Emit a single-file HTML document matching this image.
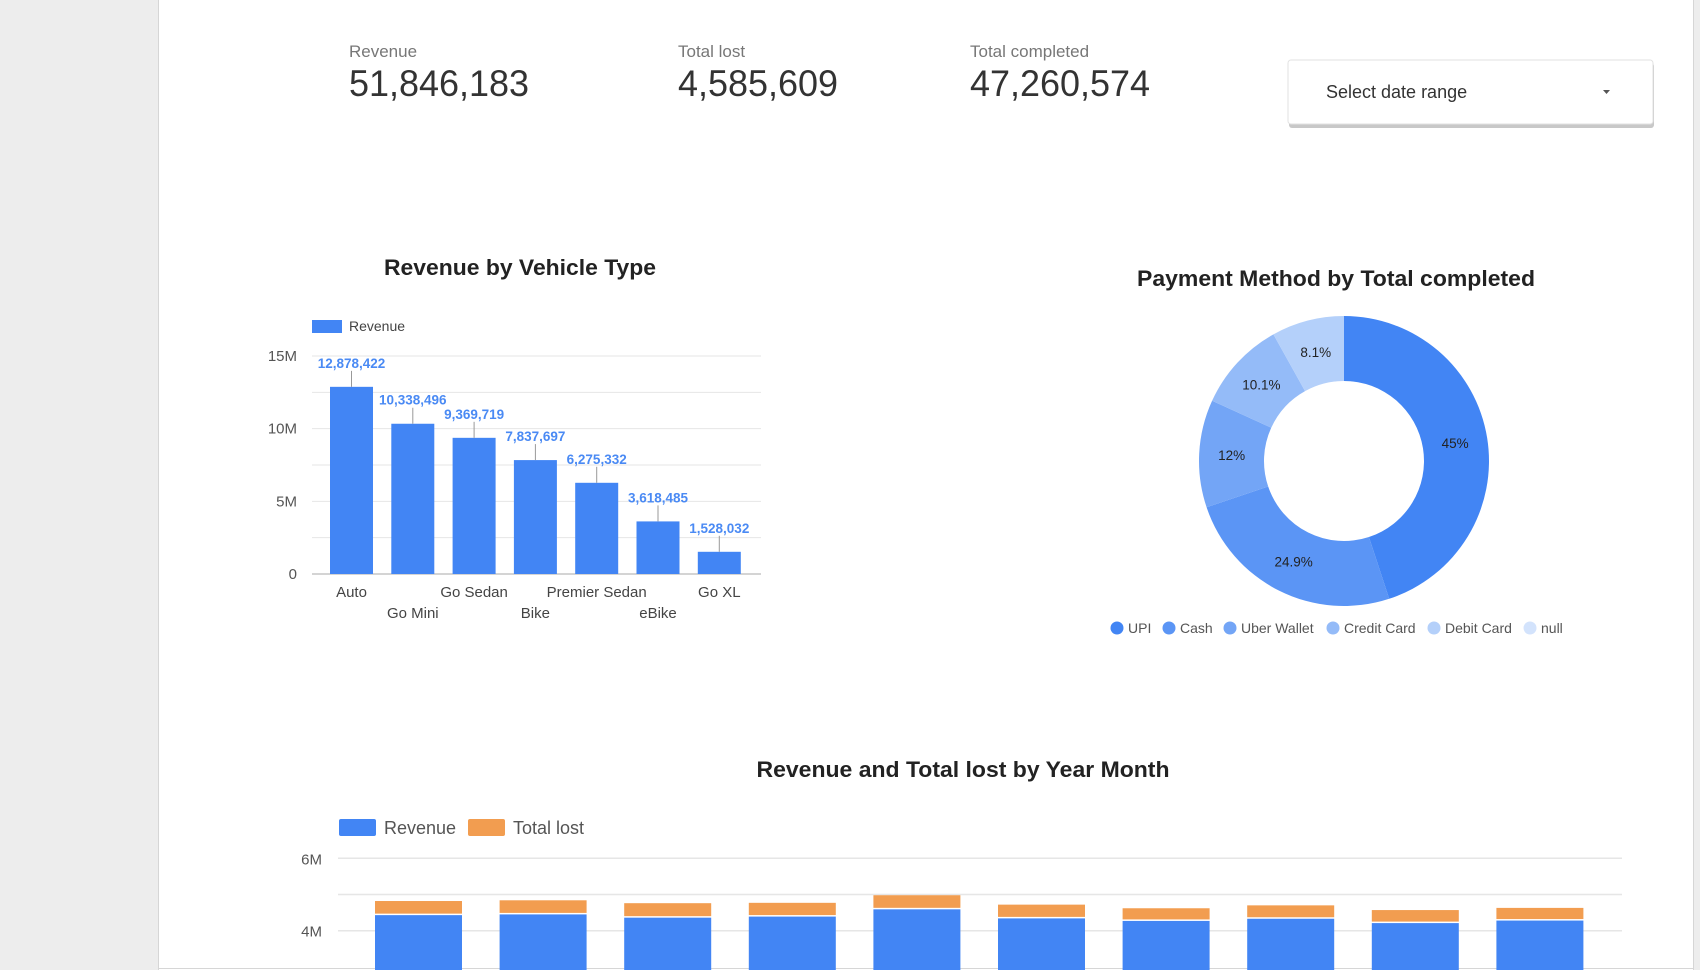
<!DOCTYPE html>
<html><head><meta charset="utf-8">
<style>
html,body{margin:0;padding:0;width:1700px;height:970px;overflow:hidden;background:#fff;font-family:"Liberation Sans",Arial,sans-serif;}
svg text{font-family:"Liberation Sans",Arial,sans-serif;}
</style></head>
<body>
<svg id="page" width="1700" height="970" viewBox="0 0 1700 970">
  <rect x="0" y="0" width="158" height="970" fill="#ededed"/>
  <line x1="158.5" y1="0" x2="158.5" y2="970" stroke="#d6d6d6"/>
  <rect x="1694" y="0" width="6" height="970" fill="#ededed"/>
  <line x1="1693.5" y1="0" x2="1693.5" y2="970" stroke="#d6d6d6"/>
  <line x1="158" y1="968.5" x2="1694" y2="968.5" stroke="#d6d6d6"/>

  <g>
    <text x="349" y="57" font-size="17" fill="#777">Revenue</text>
    <text x="349" y="96" font-size="37" fill="#333" textLength="180" lengthAdjust="spacingAndGlyphs">51,846,183</text>
  </g>
  <g>
    <text x="678" y="57" font-size="17" fill="#777">Total lost</text>
    <text x="678" y="96" font-size="37" fill="#333" textLength="160" lengthAdjust="spacingAndGlyphs">4,585,609</text>
  </g>
  <g>
    <text x="970" y="57" font-size="17" fill="#777">Total completed</text>
    <text x="970" y="96" font-size="37" fill="#333" textLength="180" lengthAdjust="spacingAndGlyphs">47,260,574</text>
  </g>
  <g>
    <rect x="1289" y="61" width="365" height="65" rx="3" fill="#c8c8c8" transform="translate(0,2)"/>
    <rect x="1288" y="60" width="365" height="64" rx="3" fill="#fff" stroke="#e2e2e2"/>
    <text x="1326" y="98" font-size="18" fill="#333">Select date range</text>
    <path d="M1603 90 l7 0 l-3.5 4 z" fill="#555"/>
  </g>

  <text x="520" y="275" font-size="22" font-weight="bold" fill="#222" text-anchor="middle" textLength="272" lengthAdjust="spacingAndGlyphs">Revenue by Vehicle Type</text>
  <g id="barChart"></g>

  <text x="1336" y="286" font-size="22" font-weight="bold" fill="#222" text-anchor="middle" textLength="398" lengthAdjust="spacingAndGlyphs">Payment Method by Total completed</text>
  <g id="donutChart"></g>

  <text x="963" y="777" font-size="22" font-weight="bold" fill="#222" text-anchor="middle" textLength="413" lengthAdjust="spacingAndGlyphs">Revenue and Total lost by Year Month</text>
  <g id="stackChart"></g>
</svg>
<script>
const NS="http://www.w3.org/2000/svg";
// Bar chart data
const vehicleCategories=["Auto","Go Mini","Go Sedan","Bike","Premier Sedan","eBike","Go XL"];
const vehicleRevenue=[12878422,10338496,9369719,7837697,6275332,3618485,1528032];
const vehicleTicks=[0,5000000,10000000,15000000];
const vehicleTickLabels=["0","5M","10M","15M"];
// Donut data
const payMethods=["UPI","Cash","Uber Wallet","Credit Card","Debit Card","null"];
const payShares=[45,24.9,12,10.1,8.1,0];
const payLabels=["45%","24.9%","12%","10.1%","8.1%",""];
// Stacked chart data
const months=["m1","m2","m3","m4","m5","m6","m7","m8","m9","m10"];
const monthRevenue=[4.43,4.45,4.36,4.39,4.59,4.34,4.27,4.33,4.21,4.28];
const monthLost=[0.39,0.39,0.40,0.38,0.39,0.38,0.35,0.37,0.36,0.35];
const stackTicks=[4,5,6];
const stackTickLabels=["4M","","6M"];

function mk(tag,attrs,parent){const e=document.createElementNS(NS,tag);for(const k in attrs)e.setAttribute(k,attrs[k]);parent.appendChild(e);return e;}
function fmt(n){return n.toLocaleString("en-US");}

// ---- Bar chart
(function(){
  const g=document.getElementById("barChart");
  const x0=312,x1=761,yBase=574,yTop=356,maxV=15000000;
  const y=v=>yBase-(v/maxV)*(yBase-yTop);
  const pitch=61.3,bw=43,first=330;
  for(let v=0;v<=maxV;v+=2500000){
    const l=mk("line",{x1:x0,x2:x1,y1:y(v),y2:y(v),stroke:v===0?"#aaa":"#e6e6e6"},g);
    
    
  }
  vehicleTicks.forEach((t,i)=>{
    const tx=mk("text",{x:297,y:y(t)+5,"font-size":15,fill:"#555","text-anchor":"end"},g);
    tx.textContent=vehicleTickLabels[i];
    
    
  });
  const lg=mk("rect",{x:312,y:320,width:30,height:13,fill:"#4285f4"},g);
  
  
  const lt=mk("text",{x:349,y:331,"font-size":14,fill:"#444"},g);lt.textContent="Revenue";
  
  
  vehicleRevenue.forEach((v,i)=>{
    const bx=first+i*pitch,cx=bx+bw/2,top=y(v);
    const r=mk("rect",{x:bx,y:top,width:bw,height:yBase-top,fill:"#4285f4"},g);
    
    
    mk("line",{x1:cx,x2:cx,y1:top-16,y2:top,stroke:"#999"},g);
    const dl=mk("text",{x:cx,y:top-19,"font-size":13.5,"font-weight":"bold",fill:"#4a8af4","text-anchor":"middle"},g);
    dl.textContent=fmt(v);
    
    
    const xl=mk("text",{x:cx,y:(i%2===0?597:618),"font-size":15,fill:"#444","text-anchor":"middle"},g);
    xl.textContent=vehicleCategories[i];
    
    
  });
})();

// ---- Donut
(function(){
  const g=document.getElementById("donutChart");
  const cx=1344,cy=461,R=145,r=80;
  const colors=["#4285f4","#5b95f5","#73a5f6","#94bbf8","#b4d0fa","#d3e3fc"];
  const total=payShares.reduce((a,b)=>a+b,0);
  let a0=0;
  payShares.forEach((s,i)=>{
    if(s<=0)return;
    const a1=a0+s/total*2*Math.PI;
    const p=(a,rad)=>[cx+rad*Math.sin(a),cy-rad*Math.cos(a)];
    const [ax,ay]=p(a0,R),[bx,by]=p(a1,R),[cx2,cy2]=p(a1,r),[dx,dy]=p(a0,r);
    const large=(a1-a0)>Math.PI?1:0;
    const path=mk("path",{d:`M${ax} ${ay} A${R} ${R} 0 ${large} 1 ${bx} ${by} L${cx2} ${cy2} A${r} ${r} 0 ${large} 0 ${dx} ${dy} Z`,fill:colors[i]},g);
    
    
    const am=(a0+a1)/2,[lx,ly]=p(am,(R+r)/2);
    const t=mk("text",{x:lx,y:ly+5,"font-size":13.5,fill:"#222","text-anchor":"middle"},g);
    t.textContent=payLabels[i];
    
    
    a0=a1;
  });
  const legX=[1117,1169,1230,1333,1434,1530];
  payMethods.forEach((m,i)=>{
    const c=mk("circle",{cx:legX[i],cy:628,r:6.5,fill:colors[i]},g);
    
    
    const t=mk("text",{x:legX[i]+11,y:633,"font-size":14,fill:"#555"},g);
    t.textContent=m;
    
    
  });
})();

// ---- Stacked chart
(function(){
  const g=document.getElementById("stackChart");
  const x0=338,x1=1622,y6=858.3,pxPerM=36.2;
  const y=v=>y6+(6-v)*pxPerM;
  const sw1=mk("rect",{x:339,y:819,width:37,height:17,fill:"#4285f4",rx:2},g);
  
  
  const t1=mk("text",{x:384,y:834,"font-size":18,fill:"#555"},g);t1.textContent="Revenue";
  
  
  const sw2=mk("rect",{x:468,y:819,width:37,height:17,fill:"#f29d50",rx:2},g);
  
  
  const t2=mk("text",{x:513,y:834,"font-size":18,fill:"#555"},g);t2.textContent="Total lost";
  
  
  stackTicks.forEach((t,i)=>{
    const l=mk("line",{x1:x0,x2:x1,y1:y(t),y2:y(t),stroke:"#e6e6e6","stroke-width":1.5},g);
    
    
    const tx=mk("text",{x:322,y:y(t)+6,"font-size":15,fill:"#555","text-anchor":"end"},g);
    tx.textContent=stackTickLabels[i];
    
    
  });
  const pitch=124.6,bw=87,first=375;
  months.forEach((m,i)=>{
    const bx=first+i*pitch;
    const rt=y(monthRevenue[i]);
    const r=mk("rect",{x:bx,y:rt,width:bw,height:980-rt,fill:"#4285f4"},g);
    
    
    const lt=y(monthRevenue[i]+monthLost[i]);
    const o=mk("rect",{x:bx,y:lt,width:bw,height:rt-lt-1.5,fill:"#f29d50"},g);
    
    
  });
})();
</script>
</body></html>
